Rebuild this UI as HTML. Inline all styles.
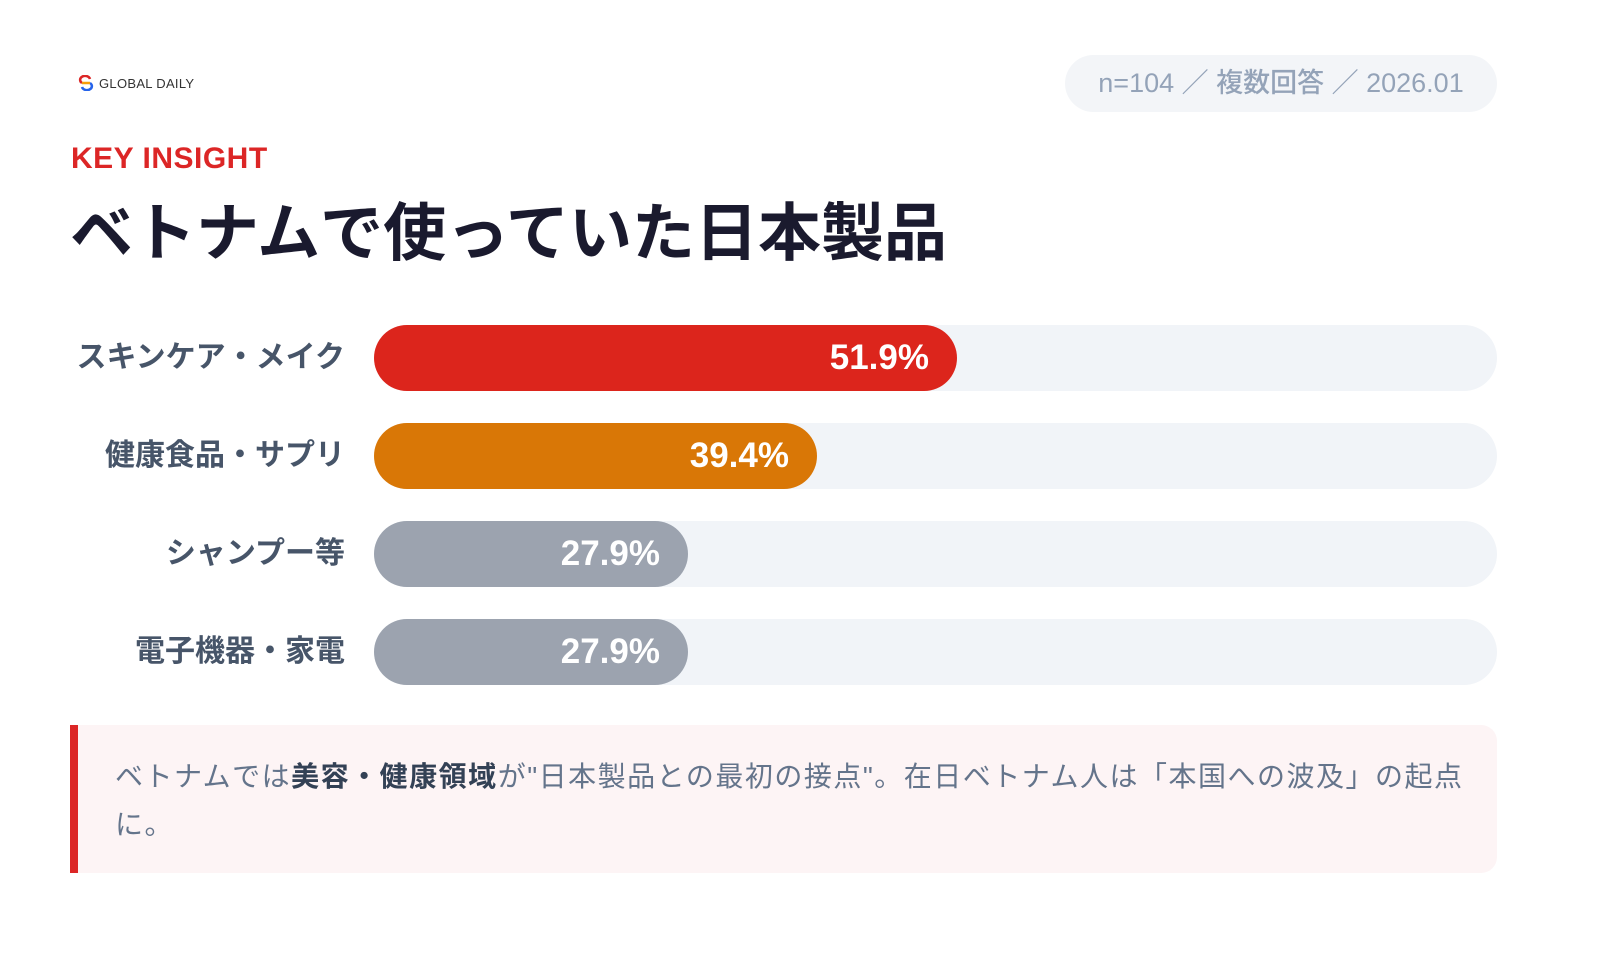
<!DOCTYPE html>
<html><head><meta charset="utf-8"><style>
*{margin:0;padding:0;box-sizing:border-box}
body{width:1600px;height:960px;background:#fff;position:relative;overflow:hidden;font-family:"Liberation Sans","Noto Sans CJK JP",sans-serif}
.abs{position:absolute}
.logo{left:78px;top:75px;font-size:13px;color:#333;display:flex;align-items:center;gap:5px;letter-spacing:0.3px}
.pill{left:1065px;top:55px;width:432px;height:57px;border-radius:29px;background:#f3f5f8;color:#94a3b8;font-size:27px;line-height:57px;text-align:center;font-weight:500}
.key{left:71px;top:142px;font-size:30px;color:#dc2626;letter-spacing:0.5px;font-weight:bold}
.title{left:70px;top:192px;font-size:63px;font-weight:bold;color:#1a1a2e;line-height:84px}
.lab{right:1255px;font-size:30px;font-weight:bold;color:#475569;height:66px;line-height:66px;white-space:nowrap}
.track{left:374px;width:1123px;height:66px;border-radius:33px;background:#f1f4f8}
.fill{position:absolute;left:0;top:0;height:66px;border-radius:33px;color:#fff;font-weight:bold;font-size:35px;line-height:66px;text-align:right;padding-right:28px}
.call{left:70px;top:725px;width:1427px;height:148px;background:#fdf4f5;border-left:8px solid #dc2626;border-radius:0 16px 16px 0;padding:28px 20px 0 37px;font-size:28px;letter-spacing:1.5px;line-height:48px;color:#64748b;white-space:nowrap}
.call b{color:#334155}
</style></head><body>
<div class="abs logo"><svg width="16" height="16" viewBox="0 0 16 16"><path d="M12 4 A5 4 0 1 0 4 8" stroke="#dc2626" stroke-width="2.5" fill="none"/><path d="M4 12 A5 4 0 1 0 12 8" stroke="#2563eb" stroke-width="2.5" fill="none"/><path d="M4 8 L12 8" stroke="#f59e0b" stroke-width="2.5"/></svg>GLOBAL DAILY</div>
<div class="abs pill">n=104 ／ 複数回答 ／ 2026.01</div>
<div class="abs key">KEY INSIGHT</div>
<div class="abs title">ベトナムで使っていた日本製品</div>

<div class="abs lab" style="top:325px">スキンケア・メイク</div>
<div class="abs track" style="top:325px"><div class="fill" style="width:583px;background:#dc251c">51.9%</div></div>
<div class="abs lab" style="top:423px">健康食品・サプリ</div>
<div class="abs track" style="top:423px"><div class="fill" style="width:443px;background:#d97706">39.4%</div></div>
<div class="abs lab" style="top:521px">シャンプー等</div>
<div class="abs track" style="top:521px"><div class="fill" style="width:314px;background:#9ca3af">27.9%</div></div>
<div class="abs lab" style="top:619px">電子機器・家電</div>
<div class="abs track" style="top:619px"><div class="fill" style="width:314px;background:#9ca3af">27.9%</div></div>

<div class="abs call">ベトナムでは<b>美容・健康領域</b>が"日本製品との最初の接点"。在日ベトナム人は「本国への波及」の起点<br>に。</div>
</body></html>
